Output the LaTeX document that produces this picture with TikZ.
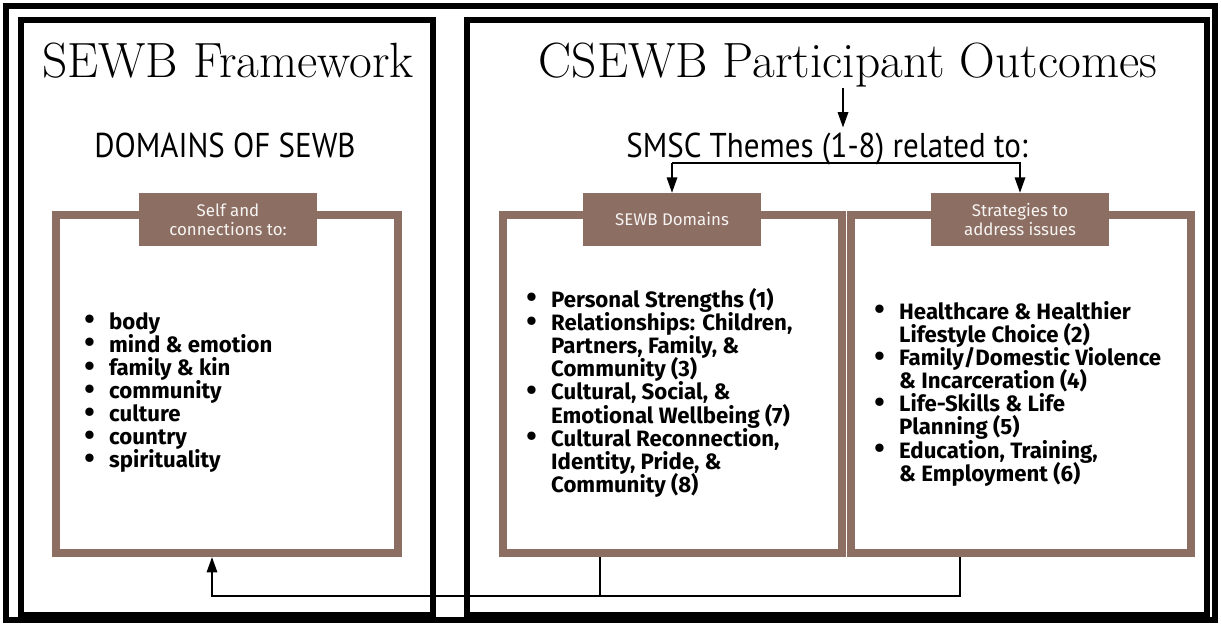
\documentclass[tikz,border=0pt]{standalone}
\usepackage{fontspec}
\setsansfont{Fira Sans}
\newfontfamily\condfont[FakeStretch=0.9]{PT Sans}
\usetikzlibrary{arrows.meta,fit,positioning}
\definecolor{clay}{RGB}{141,110,99}
\newcommand{\dotmark}{\raisebox{-0.05ex}{\scalebox{1.35}{\textbullet}}}
\newcommand{\dotrow}[1]{\makebox[17.7pt][l]{\dotmark}#1}
\newcommand{\hangrow}[1]{\hspace*{17.7pt}#1}
\newcommand{\tightlines}{\lineskiplimit=-20pt\relax\lineskip=0pt\relax}

\tikzset{
  panel/.style={draw=black, line width=3.6pt, inner sep=0pt},
  brownframe/.style={draw=clay, line width=5.7pt, inner sep=0pt},
  tag/.style={fill=clay, text=white!92!clay, minimum width=126pt, minimum height=37.6pt,
    inner sep=2pt, align=center, font=\sffamily\fontsize{12}{13.2}\selectfont},
  heading/.style={anchor=base, font=\fontsize{35.2}{40}\selectfont},
  subhead/.style={anchor=base, font=\condfont\fontsize{24.5}{27}\selectfont},
  bullets/.style={anchor=north west, align=left, inner sep=0pt,
    font=\sffamily\bfseries\fontsize{15.8}{16.45}\selectfont\tightlines},
  arr/.style={-{Triangle[length=11pt,width=7.5pt]}, line width=1.1pt},
  link/.style={line width=1.1pt}
}

\begin{document}
\begin{tikzpicture}[x=0.025cm, y=-0.025cm]
\useasboundingbox (0,0) rectangle (1221,626);

% outer frame and the two panels
\node[panel, line width=4.5pt, fit={(6,6) (1215,620)}] (frame) {};
\node[panel, fit={(21,20) (433,615)}] (leftpanel) {};
\node[panel, fit={(467,20) (1207,615)}] (rightpanel) {};

% headings
\node[heading] (framework) at (228,77) {SEWB Framework};
\node[heading] (outcomes) at (848,77) {CSEWB Participant Outcomes};
\node[subhead] (domains) at (225,157) {DOMAINS OF SEWB};
\node[subhead] (themes) at (827,157) {SMSC Themes (1-8) related to:};

% brown boxes
\node[brownframe, fit={(56,215) (398,553)}] (selfbox) {};
\node[brownframe, fit={(503,215) (842,553)}] (domainbox) {};
\node[brownframe, fit={(851,215) (1191,553)}] (stratbox) {};

\node[tag] (selftag) at (228,219.5) {Self and\\connections to:};
\node[tag] (domtag) at (672,219.5) {SEWB Domains};
\node[tag] (strattag) at (1020,219.5) {Strategies to\\address issues};

% lists
\node[bullets] (selflist) at (84,312) {\dotrow{body}\\
\dotrow{mind \& emotion}\\
\dotrow{family \& kin}\\
\dotrow{community}\\
\dotrow{culture}\\
\dotrow{country}\\
\dotrow{spirituality}};

\node[bullets] (domlist) at (526,288) {\dotrow{Personal Strengths (1)}\\
\dotrow{Relationships: Children,}\\
\hangrow{Partners, Family, \&}\\
\hangrow{Community (3)}\\
\dotrow{Cultural, Social, \&}\\
\hangrow{Emotional Wellbeing (7)}\\
\dotrow{Cultural Reconnection,}\\
\hangrow{Identity, Pride, \&}\\
\hangrow{Community (8)}};

\node[bullets] (stratlist) at (874,301) {\dotrow{Healthcare \& Healthier}\\
\hangrow{Lifestyle Choice (2)}\\
\dotrow{Family/Domestic Violence}\\
\hangrow{\& Incarceration (4)}\\
\dotrow{Life-Skills \& Life}\\
\hangrow{Planning (5)}\\
\dotrow{Education, Training,}\\
\hangrow{\& Employment (6)}};

% connectors
\coordinate (drop) at (843,88);
\coordinate (forkline) at (0,163);
\coordinate (tapL) at (600,596);
\coordinate (tapR) at (960,596);
\coordinate (back) at (212,596);

\draw[arr] (drop) -- (drop |- themes.north);
\draw[arr] (domtag.north |- forkline) -- (domtag.north);
\draw[arr] (domtag.north |- forkline) -- (strattag.north |- forkline) -- (strattag.north);
\draw[link] (tapL |- domainbox.south) -- (tapL);
\draw[arr] (tapR |- stratbox.south) -- (tapR) -- (back) -- (back |- selfbox.south);
\end{tikzpicture}
\end{document}
